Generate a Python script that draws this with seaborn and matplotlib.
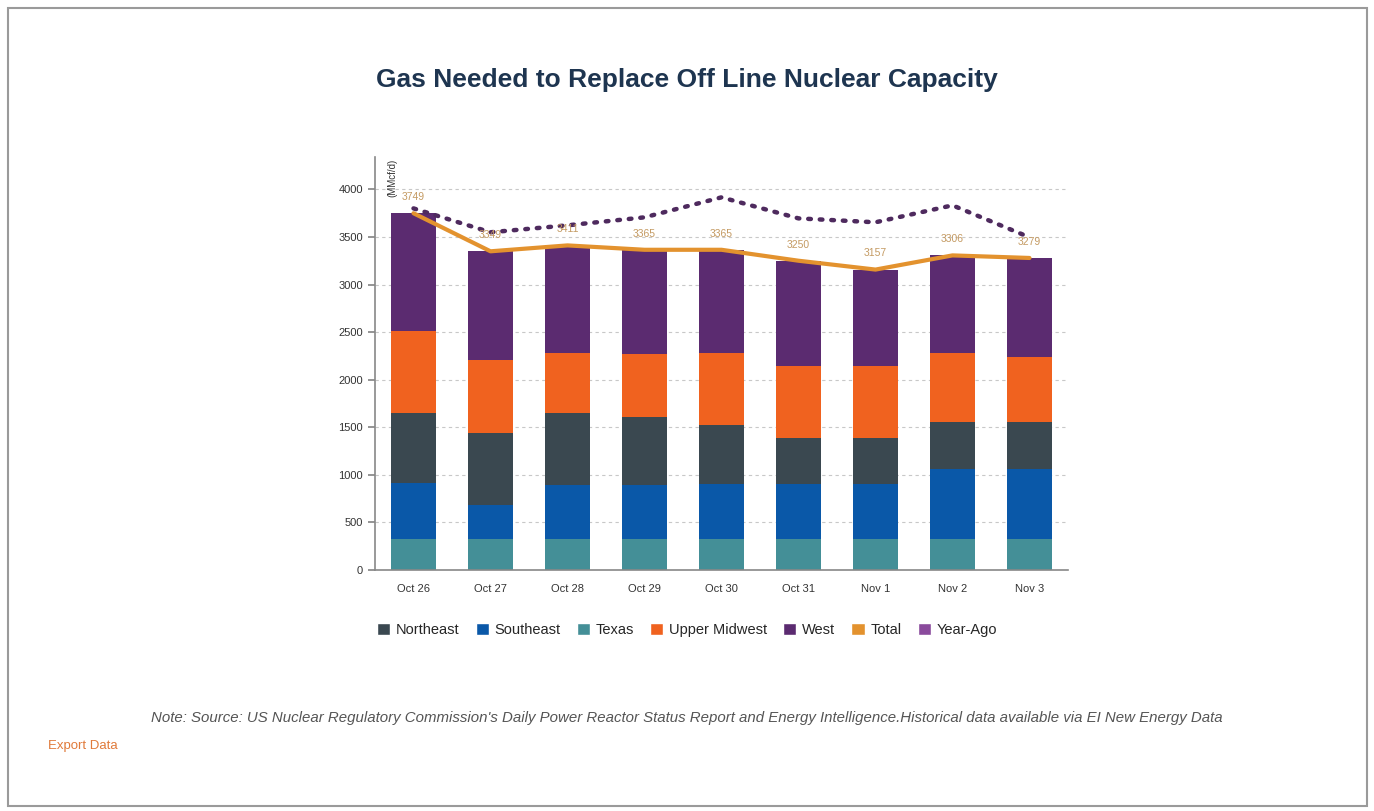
import pandas as pd
import matplotlib
matplotlib.use('Agg')
import matplotlib.pyplot as plt
from matplotlib.patches import Rectangle, Patch
from matplotlib.ticker import FixedLocator
import seaborn as sns

# Daily values (MMcf/d)
days = ['Oct 26', 'Oct 27', 'Oct 28', 'Oct 29', 'Oct 30', 'Oct 31', 'Nov 1', 'Nov 2', 'Nov 3']
texas = [330, 330, 330, 330, 330, 330, 330, 330, 330]
southeast = [580, 350, 560, 560, 575, 575, 575, 730, 730]
northeast = [738, 758, 758, 716, 617, 481, 481, 494, 494]
upper_midwest = [861, 767, 630, 662, 756, 756, 756, 724, 682]
west = [1240, 1144, 1133, 1097, 1087, 1108, 1015, 1028, 1043]
year_ago = [3800, 3549, 3622, 3706, 3916, 3695, 3654, 3832, 3496]

colors = {
    'Northeast': '#3a4850',
    'Southeast': '#0a58a8',
    'Texas': '#448f97',
    'Upper Midwest': '#f0621f',
    'West': '#5b2b70',
    'Total': '#e3922e',
    'Year-Ago': '#8a4a9c',
}

df = pd.DataFrame({'day': days, 'Texas': texas, 'Southeast': southeast,
                   'Northeast': northeast, 'Upper Midwest': upper_midwest,
                   'West': west, 'Year-Ago': year_ago})
# stacking order bottom -> top
order = ['Texas', 'Southeast', 'Northeast', 'Upper Midwest', 'West']
cum = df[order].cumsum(axis=1)
df['Total'] = cum['West']

sns.set_theme(style='white')
plt.rcParams['font.family'] = ['Liberation Sans', 'DejaVu Sans']

fig = plt.figure(figsize=(13.74, 8.11), dpi=100)
ax = fig.add_axes([375 / 1374, 1 - 570 / 811, 693 / 1374, (570 - 157) / 811])

# draw cumulative tops from the top segment down so lower layers sit in front
for name in reversed(order):
    sns.barplot(x=df['day'], y=cum[name], color=colors[name], width=0.58,
                saturation=1, linewidth=0, ax=ax, zorder=2)

sns.lineplot(x=df['day'], y=df['Year-Ago'], color='#4e2a5e', linewidth=3.2,
             linestyle=(0, (0.6, 2.0)), dash_capstyle='round', ax=ax, zorder=3)
sns.lineplot(x=df['day'], y=df['Total'], color=colors['Total'], linewidth=3,
             ax=ax, zorder=4)

for i, v in enumerate(df['Total']):
    ax.annotate(f'{v}', (i, v), xytext=(0, 8), textcoords='offset points',
                ha='center', va='bottom', fontsize=7.5, color='#c49a62', zorder=5)

ax.set_xlim(-0.5, 8.5)
ax.set_ylim(0, 4340)
ax.set_yticks(range(0, 4001, 500))
ax.set_xlabel('')
ax.set_ylabel('')
ax.yaxis.grid(True, color='#c8c8c8', linestyle=(0, (3, 3)), linewidth=0.8, zorder=0)
ax.set_axisbelow(True)
ax.xaxis.set_minor_locator(FixedLocator([i + 0.5 for i in range(-1, 9)]))
ax.tick_params(axis='x', which='major', length=0, labelsize=8, pad=10, colors='#333333')
ax.tick_params(axis='x', which='minor', length=6, direction='out', color='#888888', width=1)
ax.tick_params(axis='y', length=5, direction='out', color='#888888', labelsize=8,
               colors='#333333', left=True)
for s in ['top', 'right']:
    ax.spines[s].set_visible(False)
for s in ['left', 'bottom']:
    ax.spines[s].set_color('#888888')
    ax.spines[s].set_linewidth(1.2)
ax.text(0.018, 0.995, '(MMcf/d)', transform=ax.transAxes, rotation=90,
        ha='left', va='top', fontsize=7, color='#333333')

handles = [Patch(facecolor=colors[k]) for k in colors]
fig.legend(handles, list(colors), loc='center', bbox_to_anchor=(0.5, 1 - 630 / 811),
           ncol=7, frameon=False, fontsize=10.5, handlelength=0.9, handleheight=0.9,
           handletextpad=0.4, columnspacing=1.1)

fig.text(0.5, 1 - 80 / 811, 'Gas Needed to Replace Off Line Nuclear Capacity',
         ha='center', va='center', fontsize=19, fontweight='bold', color='#1e3550')
fig.text(0.5, 1 - 718 / 811,
         "Note: Source: US Nuclear Regulatory Commission's Daily Power Reactor Status Report "
         "and Energy Intelligence.Historical data available via EI New Energy Data",
         ha='center', va='center', fontsize=10.8, style='italic', color='#555555')
fig.text(48 / 1374, 1 - 746 / 811, 'Export Data', ha='left', va='center',
         fontsize=9.5, color='#e07a3a')

fig.patches.append(Rectangle((8 / 1374, 1 - 806 / 811), 1359 / 1374, 798 / 811,
                             transform=fig.transFigure, fill=False,
                             edgecolor='#9a9a9a', linewidth=1.5))

fig.savefig('out.png', dpi=100)
